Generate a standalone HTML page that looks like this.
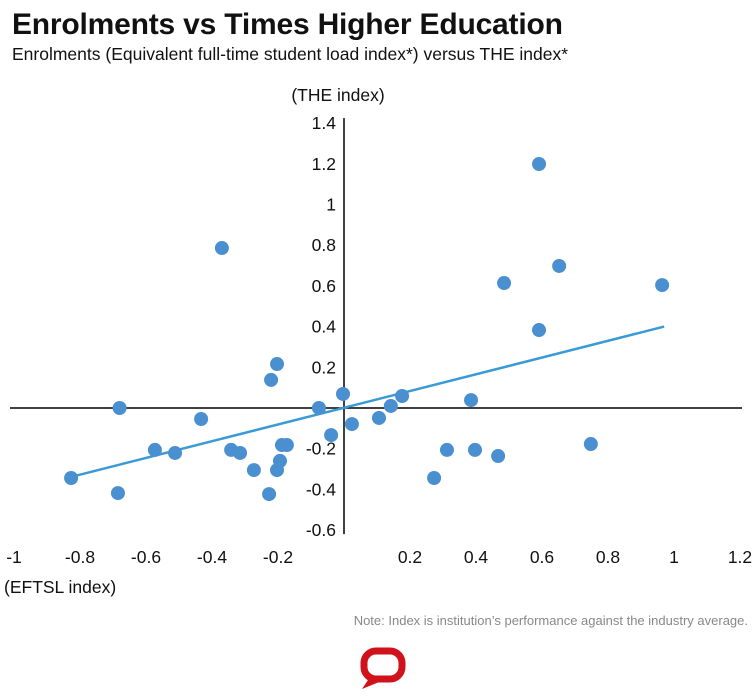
<!DOCTYPE html>
<html><head><meta charset="utf-8"><style>
body{margin:0;background:#fff;width:754px;height:699px;overflow:hidden;font-family:"Liberation Sans",Arial,sans-serif}
svg{position:absolute;left:0;top:0}
</style></head><body>
<svg width="754" height="699">
<text x="12" y="34" font-size="30" font-weight="bold" fill="#111" letter-spacing="-0.2">Enrolments vs Times Higher Education</text>
<text x="12" y="60" font-size="17.5" fill="#111">Enrolments (Equivalent full-time student load index*) versus THE index*</text>
<text x="338" y="101" font-size="17.5" text-anchor="middle" fill="#111">(THE index)</text>
<text x="4" y="593" font-size="17.5" fill="#111">(EFTSL index)</text>
<text x="748" y="625" font-size="13" text-anchor="end" fill="#888">Note: Index is institution’s performance against the industry average.</text>
<g id="axes"></g>
<g id="marks"></g>
<g>
<rect x="364" y="651" width="38" height="28" rx="12" fill="none" stroke="#d0121b" stroke-width="7"/>
<path d="M370 677 L362 689 L384 680 Z" fill="#d0121b"/>
</g>
</svg>
<script>
const xTicks=[-1,-0.8,-0.6,-0.4,-0.2,0.2,0.4,0.6,0.8,1,1.2];
const xTickLabels=["-1","-0.8","-0.6","-0.4","-0.2","0.2","0.4","0.6","0.8","1","1.2"];
const yTicks=[1.4,1.2,1,0.8,0.6,0.4,0.2,-0.2,-0.4,-0.6];
const yTickLabels=["1.4","1.2","1","0.8","0.6","0.4","0.2","-0.2","-0.4","-0.6"];
const eftsl=[-0.827,-0.68,-0.685,-0.573,-0.512,-0.433,-0.37,-0.342,-0.315,-0.273,-0.227,-0.221,-0.203,-0.203,-0.194,-0.188,-0.173,-0.076,-0.039,-0.003,0.024,0.106,0.142,0.176,0.273,0.312,0.385,0.397,0.467,0.485,0.591,0.591,0.652,0.748,0.964];
const theIdx=[-0.344,0,-0.418,-0.206,-0.221,-0.054,0.786,-0.206,-0.221,-0.305,-0.423,0.138,0.216,-0.305,-0.26,-0.182,-0.182,0,-0.133,0.069,-0.079,-0.049,0.01,0.059,-0.344,-0.206,0.039,-0.206,-0.236,0.614,1.199,0.383,0.698,-0.177,0.604];
const trendX=[-0.83,0.97];
const trendY=[-0.34,0.40];
const NS="http://www.w3.org/2000/svg";
const X=v=>344+v*330, Y=v=>408-v*203.5;
function mk(t,a,p){const e=document.createElementNS(NS,t);for(const k in a)e.setAttribute(k,a[k]);p.appendChild(e);return e;}
const ax=document.getElementById('axes'), mg=document.getElementById('marks');
let l=mk('line',{x1:10,x2:742,y1:Y(0),y2:Y(0),stroke:'#000','stroke-width':1.5},ax);


l=mk('line',{x1:X(0),x2:X(0),y1:Y(1.4)-5,y2:Y(-0.6)+4,stroke:'#000','stroke-width':1.5},ax);


xTicks.forEach((v,i)=>{const t=mk('text',{x:X(v),y:563,'font-size':17.5,'text-anchor':'middle',fill:'#111'},ax);t.textContent=xTickLabels[i];

});
yTicks.forEach((v,i)=>{const t=mk('text',{x:336,y:Y(v)+6,'font-size':17.5,'text-anchor':'end',fill:'#111'},ax);t.textContent=yTickLabels[i];

});
const tl=mk('line',{x1:X(trendX[0]),y1:Y(trendY[0]),x2:X(trendX[1]),y2:Y(trendY[1]),stroke:'#3a9ad6','stroke-width':2.5},mg);


eftsl.forEach((v,i)=>{const c=mk('circle',{cx:X(v),cy:Y(theIdx[i]),r:7,fill:'#4a8fcf'},mg);

});
</script>
</body></html>
